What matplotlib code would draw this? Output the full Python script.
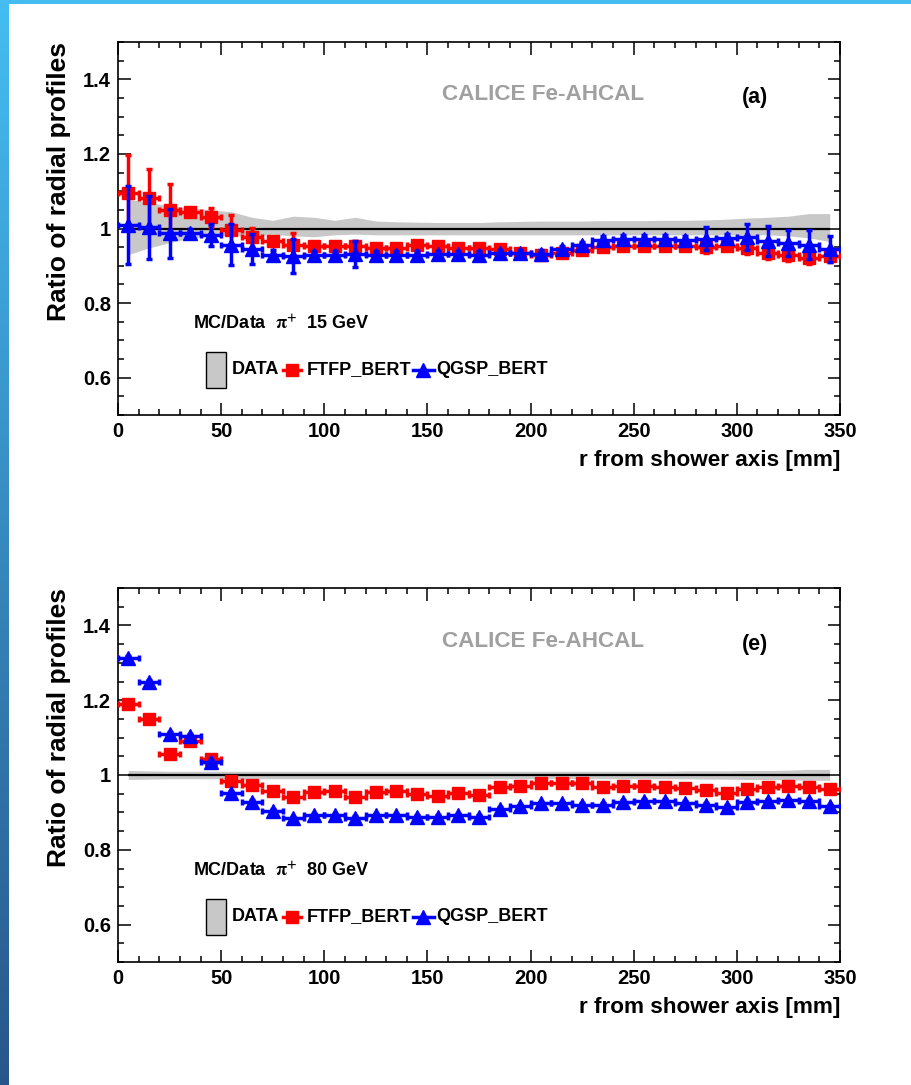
import numpy as np
import matplotlib
matplotlib.use('Agg')
import matplotlib.pyplot as plt
from matplotlib.patches import Rectangle
from matplotlib.ticker import MultipleLocator, FixedLocator, FuncFormatter

plt.rcParams['font.family'] = ['Liberation Sans', 'DejaVu Sans']
plt.rcParams['font.weight'] = 'bold'
plt.rcParams['mathtext.fontset'] = 'stix'

# bin centres [mm]
r = np.arange(5, 350, 10)

# ---- (a) 15 GeV ----
ftfp_15 = [1.096, 1.082, 1.050, 1.044, 1.030, 0.997, 0.976, 0.966, 0.957, 0.952,
           0.952, 0.953, 0.948, 0.947, 0.955, 0.952, 0.948, 0.948, 0.945, 0.935,
           0.930, 0.935, 0.943, 0.950, 0.952, 0.952, 0.952, 0.952, 0.950, 0.952,
           0.947, 0.933, 0.928, 0.922, 0.925]
ftfp_15_err = [0.100, 0.078, 0.070, 0.010, 0.025, 0.040, 0.025, 0.012, 0.030, 0.010,
               0.010, 0.013, 0.010, 0.010, 0.010, 0.010, 0.010, 0.010, 0.010, 0.010,
               0.010, 0.010, 0.010, 0.010, 0.010, 0.010, 0.010, 0.010, 0.015, 0.010,
               0.015, 0.015, 0.015, 0.018, 0.015]
qgsp_15 = [1.010, 1.003, 0.987, 0.987, 0.982, 0.957, 0.945, 0.930, 0.926, 0.930,
           0.930, 0.931, 0.930, 0.930, 0.930, 0.931, 0.931, 0.930, 0.933, 0.933,
           0.932, 0.944, 0.955, 0.970, 0.972, 0.972, 0.973, 0.970, 0.973, 0.975,
           0.978, 0.966, 0.960, 0.957, 0.946]
qgsp_15_err = [0.105, 0.085, 0.065, 0.012, 0.030, 0.055, 0.040, 0.012, 0.045, 0.010,
               0.010, 0.035, 0.010, 0.010, 0.010, 0.010, 0.010, 0.010, 0.010, 0.010,
               0.010, 0.010, 0.010, 0.010, 0.010, 0.010, 0.010, 0.010, 0.030, 0.010,
               0.035, 0.040, 0.035, 0.040, 0.035]
data_15_hi = [1.078, 1.070, 1.060, 1.055, 1.050, 1.045, 1.030, 1.022, 1.033, 1.030,
              1.022, 1.030, 1.020, 1.018, 1.017, 1.016, 1.016, 1.016, 1.018, 1.019,
              1.020, 1.020, 1.020, 1.021, 1.021, 1.021, 1.022, 1.022, 1.023, 1.025,
              1.028, 1.030, 1.033, 1.040, 1.040]
data_15_lo = [0.930, 0.948, 0.962, 0.974, 0.980, 0.982, 0.978, 0.985, 0.980, 0.978,
              0.983, 0.985, 0.983, 0.983, 0.983, 0.983, 0.983, 0.983, 0.983, 0.983,
              0.983, 0.983, 0.983, 0.983, 0.983, 0.983, 0.983, 0.983, 0.983, 0.983,
              0.983, 0.983, 0.980, 0.975, 0.965]

# ---- (e) 80 GeV ----
ftfp_80 = [1.190, 1.151, 1.057, 1.092, 1.043, 0.984, 0.973, 0.957, 0.940, 0.955,
           0.958, 0.942, 0.955, 0.958, 0.949, 0.943, 0.952, 0.946, 0.968, 0.970,
           0.979, 0.979, 0.979, 0.969, 0.970, 0.970, 0.967, 0.966, 0.960, 0.952,
           0.962, 0.969, 0.970, 0.969, 0.962]
qgsp_80 = [1.313, 1.248, 1.110, 1.105, 1.035, 0.951, 0.927, 0.905, 0.884, 0.892,
           0.892, 0.886, 0.892, 0.892, 0.889, 0.888, 0.892, 0.889, 0.910, 0.916,
           0.924, 0.924, 0.919, 0.919, 0.928, 0.930, 0.930, 0.925, 0.919, 0.915,
           0.928, 0.930, 0.932, 0.930, 0.916]
mc_80_err = [0.005] * 35
data_80_hi = [1.012, 1.011, 1.010, 1.010, 1.010, 1.010, 1.010, 1.010, 1.010, 1.010,
              1.010, 1.010, 1.010, 1.010, 1.010, 1.010, 1.010, 1.010, 1.010, 1.010,
              1.010, 1.010, 1.010, 1.010, 1.010, 1.010, 1.010, 1.011, 1.011, 1.011,
              1.012, 1.012, 1.013, 1.015, 1.015]
data_80_lo = [0.988, 0.989, 0.990, 0.990, 0.990, 0.990, 0.990, 0.990, 0.990, 0.990,
              0.990, 0.990, 0.990, 0.990, 0.990, 0.990, 0.990, 0.990, 0.990, 0.990,
              0.990, 0.990, 0.990, 0.990, 0.990, 0.990, 0.990, 0.990, 0.989, 0.989,
              0.988, 0.988, 0.987, 0.986, 0.986]

panels = [
    ('(a)', r'MC/Data  $\mathrm{\pi}^{+}$  15 GeV', ftfp_15, ftfp_15_err, qgsp_15, qgsp_15_err, data_15_lo, data_15_hi),
    ('(e)', r'MC/Data  $\mathrm{\pi}^{+}$  80 GeV', ftfp_80, mc_80_err, qgsp_80, mc_80_err, data_80_lo, data_80_hi),
]

W, H = 912, 1085
fig = plt.figure(figsize=(W / 100, H / 100), dpi=100)

# slide decoration: blue stripe on top and gradient stripe on the left
top = fig.add_axes([0, 1 - 4 / H, 1, 4 / H])
top.set_axis_off()
top.add_patch(Rectangle((0, 0), 1, 1, color='#45bcf0', transform=top.transAxes))
left = fig.add_axes([0, 0, 9 / W, 1])
c0 = np.array([69, 189, 242]) / 255
c1 = np.array([40, 86, 138]) / 255
t = np.linspace(0, 1, 200)[:, None]
grad = (c0 * (1 - t) + c1 * t)[:, None, :]
left.imshow(grad, aspect='auto', extent=[0, 1, 0, 1])
left.set_axis_off()

ax_rects = [[118 / W, 1 - 415 / H, 722 / W, 373 / H],
            [118 / W, 1 - 962 / H, 722 / W, 374 / H]]

for rect, (tag, title, ftfp, ftfp_err, qgsp, qgsp_err, lo, hi) in zip(ax_rects, panels):
    ax = fig.add_axes(rect)
    ax.fill_between(r, lo, hi, color='#c8c8c8', lw=0, zorder=1)
    ax.hlines(1, r[0], r[-1], color='black', lw=1.6, zorder=2)
    ax.errorbar(r, ftfp, xerr=5, yerr=ftfp_err, fmt='s', color='red', ms=8,
                elinewidth=2.5, capsize=2.4, capthick=2.5, zorder=3)
    ax.errorbar(r, qgsp, xerr=5, yerr=qgsp_err, fmt='^', color='blue', ms=10.5,
                elinewidth=2.5, capsize=2.4, capthick=2.5, zorder=4)

    ax.set_xlim(0, 350)
    ax.set_ylim(0.5, 1.5)
    ax.xaxis.set_major_locator(MultipleLocator(50))
    ax.xaxis.set_minor_locator(MultipleLocator(10))
    ax.yaxis.set_major_locator(FixedLocator([0.6, 0.8, 1.0, 1.2, 1.4]))
    ax.yaxis.set_minor_locator(MultipleLocator(0.05))
    ax.yaxis.set_major_formatter(FuncFormatter(lambda v, p: f'{v:g}'))
    ax.tick_params(which='both', direction='in', top=True, right=True, width=1.1)
    ax.tick_params(which='major', length=9, labelsize=14.5, pad=5)
    ax.tick_params(which='minor', length=4.5)
    for s in ax.spines.values():
        s.set_linewidth(1.2)

    ax.text(1.0, -0.122, 'r from shower axis [mm]', transform=ax.transAxes,
            ha='right', va='center', fontsize=16.2)
    ax.text(-0.082, 1.0, 'Ratio of radial profiles', transform=ax.transAxes,
            rotation=90, ha='center', va='top', fontsize=19)
    ax.text(0.589, 0.858, 'CALICE Fe-AHCAL', transform=ax.transAxes,
            ha='center', va='center', fontsize=16.2, color='#a0a0a0')
    ax.text(0.882, 0.85, tag, transform=ax.transAxes,
            ha='center', va='center', fontsize=15.5)
    ax.text(0.104, 0.243, title, transform=ax.transAxes,
            ha='left', va='center', fontsize=13)

    # legend
    ly = 0.121
    ax.add_patch(Rectangle((0.122, 0.072), 0.028, 0.097, transform=ax.transAxes,
                           fc='#c8c8c8', ec='black', lw=1, clip_on=False))
    ax.text(0.157, ly, 'DATA', transform=ax.transAxes, ha='left', va='center', fontsize=13)
    ax.plot([0.228, 0.254], [ly, ly], color='red', lw=2.5, transform=ax.transAxes, clip_on=False)
    ax.plot([0.241], [ly], 's', color='red', ms=8, transform=ax.transAxes, clip_on=False)
    ax.text(0.261, ly, 'FTFP_BERT', transform=ax.transAxes, ha='left', va='center', fontsize=13)
    ax.plot([0.408, 0.437], [ly, ly], color='blue', lw=2.5, transform=ax.transAxes, clip_on=False)
    ax.plot([0.4225], [ly], '^', color='blue', ms=10.5, transform=ax.transAxes, clip_on=False)
    ax.text(0.441, ly, 'QGSP_BERT', transform=ax.transAxes, ha='left', va='center', fontsize=13)

fig.savefig('out.png', dpi=100)
